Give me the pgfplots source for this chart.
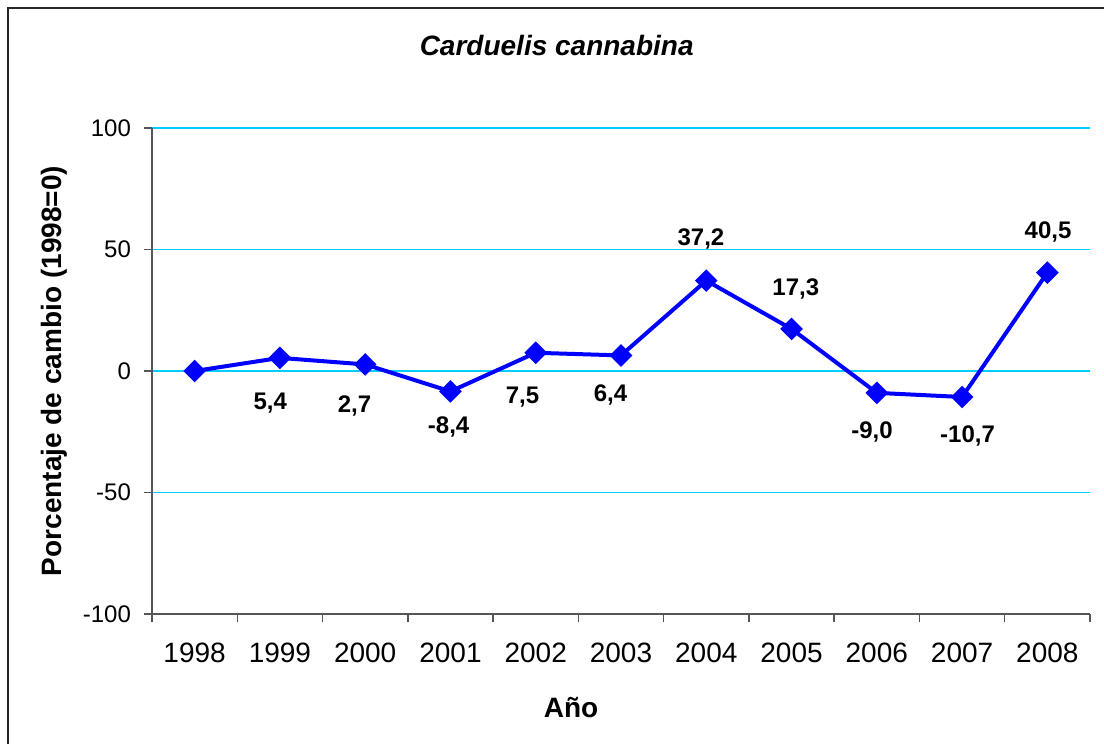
\documentclass[border=0pt]{standalone}
\usepackage{fontspec}
\setmainfont{Liberation Sans}
\usepackage{pgfplots}
\pgfplotsset{compat=1.18}
\definecolor{serie}{HTML}{0000FF}
\definecolor{rejilla}{HTML}{00CCFF}
\definecolor{ejes}{HTML}{555555}
\begin{document}
\begin{tikzpicture}
% 1 px of the reference = 0.5pt; plot area is 938 x 486 px
\path[use as bounding box] (-76pt,-65pt) rectangle (476pt,307pt);
\draw[line width=1pt, black!85] (-72pt,-65pt) -- (-72pt,303pt) -- (476pt,303pt);
\begin{axis}[
  at={(0,0)}, anchor=south west,
  scale only axis, width=469pt, height=243pt,
  xmin=-0.5, xmax=10.5, ymin=-100, ymax=100,
  axis lines*=left,
  axis line style={ejes, line width=0.7pt},
  tick style={ejes, line width=0.7pt},
  tick align=outside,
  major tick length=4pt,
  ytick={-100,-50,0,50,100},
  ymajorgrids,
  major grid style={rejilla, line width=0.6pt},
  xtick={-0.5,0.5,...,10.5},
  xticklabels={},
  extra x ticks={0,1,2,3,4,5,6,7,8,9,10},
  extra x tick labels={1998,1999,2000,2001,2002,2003,2004,2005,2006,2007,2008},
  extra x tick style={major tick length=0pt, grid=none,
    xticklabel style={yshift=-11pt}},
  x tick label style={font=\fontsize{14}{16}\selectfont},
  y tick label style={font=\fontsize{12}{14}\selectfont, xshift=-3pt},
  /pgf/number format/assume math mode=true,
  clip=false,
]
  \addplot[color=serie, line width=2pt, mark=square*,
    mark size=3pt, mark options={rotate=45, fill=serie, solid}] coordinates {
    (0, 0.0)
    (1, 5.4)
    (2, 2.7)
    (3, -8.4)
    (4, 7.5)
    (5, 6.4)
    (6, 37.2)
    (7, 17.3)
    (8, -9.0)
    (9, -10.7)
    (10, 40.5)
  };
  \begin{scope}[every node/.style={font=\bfseries\fontsize{12}{14}\selectfont}]
    \node at (axis cs:0.887,-13.4) {5,4};
    \node at (axis cs:1.875,-14.3) {2,7};
    \node at (axis cs:2.979,-22.9) {-8,4};
    \node at (axis cs:3.845,-10.6) {7,5};
    \node at (axis cs:4.877,-9.9) {6,4};
    \node at (axis cs:5.938,54.5) {37,2};
    \node at (axis cs:7.05,33.9) {17,3};
    \node at (axis cs:7.944,-25.0) {-9,0};
    \node at (axis cs:9.064,-26.7) {-10,7};
    \node at (axis cs:10.008,57.3) {40,5};
  \end{scope}
\end{axis}
\node[font=\bfseries\itshape\fontsize{14}{16}\selectfont] at (202.35pt,284pt) {Carduelis cannabina};
\node[font=\bfseries\fontsize{14}{16}\selectfont, rotate=90] at (-49pt,121.5pt) {Porcentaje de cambio (1998=0)};
\node[font=\bfseries\fontsize{14}{16}\selectfont] at (209.5pt,-46.75pt) {Año};
\end{tikzpicture}
\end{document}
